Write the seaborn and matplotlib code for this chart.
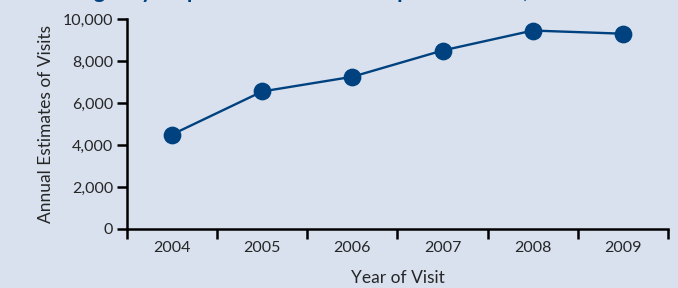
import matplotlib
matplotlib.use("Agg")
import matplotlib.pyplot as plt
import seaborn as sns
import pandas as pd
import numpy as np
from matplotlib.ticker import FuncFormatter, FixedLocator

# data
years = ["2004", "2005", "2006", "2007", "2008", "2009"]
visits = [4500, 6550, 7250, 8500, 9450, 9300]
y_ticks = [0, 2000, 4000, 6000, 8000, 10000]

bg = "#d9e1ee"
blue = "#00427f"

sns.set_style("white")
plt.rcParams["font.family"] = ["Lato", "DejaVu Sans"]

df = pd.DataFrame({"year": years, "visits": visits})

fig = plt.figure(figsize=(6.78, 2.88), dpi=100, facecolor=bg)
ax = fig.add_axes([127 / 678, 1 - 229 / 288, 541 / 678, 210 / 288])
ax.set_facecolor(bg)

sns.pointplot(data=df, x="year", y="visits", color=blue, markers="o",
              markersize=11.5, linewidth=1.7, ax=ax)

ax.set_xlim(-0.5, 5.5)
ax.set_ylim(0, 10000)
ax.set_yticks(y_ticks)
ax.yaxis.set_major_formatter(FuncFormatter(lambda v, p: f"{int(v):,}"))

# category boundaries as ticks, year labels in between
ax.xaxis.set_major_locator(FixedLocator(np.arange(-0.5, 6, 1)))
ax.xaxis.set_major_formatter(FuncFormatter(lambda v, p: ""))
ax.xaxis.set_minor_locator(FixedLocator(np.arange(6)))
ax.set_xticklabels(years, minor=True)
ax.tick_params(axis="x", which="minor", bottom=True, length=0, pad=9, labelsize=11.5)
ax.tick_params(axis="x", which="major", bottom=True, direction="out", length=7, width=1.8, color="black")
ax.tick_params(axis="y", left=True, direction="out", length=7, width=1.8, color="black",
               labelsize=11.5, pad=3)

sns.despine(ax=ax)
for s in ["left", "bottom"]:
    ax.spines[s].set_linewidth(1.8)
    ax.spines[s].set_color("black")

ax.set_xlabel("Year of Visit", fontsize=12.5, labelpad=10.5)
ax.set_ylabel("Annual Estimates of Visits", fontsize=12.5, labelpad=6)

# title mostly cropped away at the top in the reference: only descenders show
fig.text(0.51, 1 + 1.5 / 288, "Emergency Department Visits for Opioid Misuse, 2004–2009",
         ha="center", va="baseline", fontsize=16, fontweight="bold", color=blue)

fig.savefig("out.png", dpi=100, facecolor=bg)
